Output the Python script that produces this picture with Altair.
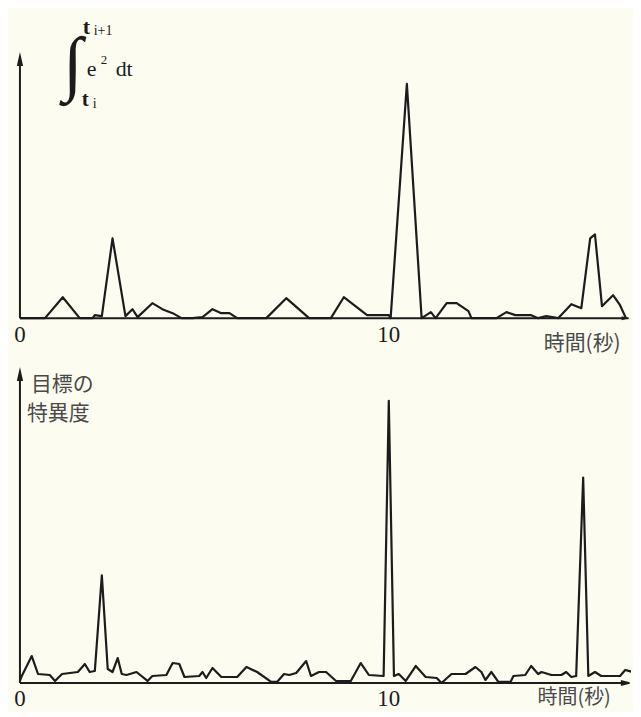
import altair as alt
import pandas as pd

# ---- data (time in seconds, arbitrary amplitude units) ----
top_t = [0, 0.68, 1.16, 1.62, 1.97, 2.03, 2.22, 2.51, 2.86, 3.05, 3.19, 3.59, 3.86, 4.14,
         4.38, 4.68, 4.95, 5.22, 5.46, 5.68, 5.89, 6.68, 7.22, 7.84, 8.43, 8.78, 9.41, 10.0,
         10.05, 10.49, 10.89, 11.14, 11.27, 11.57, 11.84, 12.16, 12.24, 12.92, 13.19, 13.43,
         13.86, 14.05, 14.27, 14.59, 14.95, 15.22, 15.46, 15.59, 15.78, 16.08, 16.27, 16.43]
top_v = [0, 0, 2.1, 0, 0, 0.3, 0.2, 8.0, 0.2, 0.9, 0.1, 1.5, 0.9, 0.5,
         0, 0, 0.1, 0.9, 0.5, 0.5, 0, 0, 2.0, 0, 0, 2.1, 0.3, 0.3,
         0, 23.5, 0, 0.6, 0, 1.5, 1.5, 0.7, 0, 0, 0.6, 0.3,
         0.3, 0, 0.2, 0, 1.4, 1.0, 8.0, 8.4, 1.2, 2.3, 1.3, 0]

bot_t = [0, 0.05, 0.32, 0.49, 0.81, 0.95, 1.14, 1.57, 1.76, 1.89,
         2.03, 2.22, 2.38, 2.51, 2.65, 2.76, 2.89, 3.16, 3.46, 3.59,
         3.97, 4.14, 4.32, 4.46, 4.86, 4.95, 5.05, 5.22, 5.46, 5.89,
         6.14, 6.43, 6.81, 6.97, 7.16, 7.30, 7.49, 7.76, 7.89, 8.11,
         8.30, 8.57, 8.97, 9.24, 9.46, 9.86, 10.0, 10.14, 10.27, 10.46,
         10.73, 11.0, 11.30, 11.43, 11.70, 12.08, 12.35, 12.51, 12.62, 12.78,
         12.97, 13.30, 13.38, 13.70, 13.86, 14.05, 14.14, 14.41, 14.68, 14.81,
         14.95, 15.08, 15.27, 15.41, 15.59, 15.76, 16.27, 16.41, 16.62, 16.72]
bot_v = [0.2, 0.7, 2.7, 0.9, 0.8, 0.2, 0.9, 1.1, 1.9, 1.1,
         1.2, 10.8, 1.4, 1.1, 2.5, 0.9, 0.8, 1.1, 0.2, 0.7,
         0.8, 2.0, 1.9, 0.6, 0.7, 1.1, 0.5, 1.5, 0.6, 0.6,
         1.6, 1.1, 0.1, 0.1, 0.9, 0.8, 1.0, 2.2, 0.7, 1.1,
         1.1, 0.2, 0.2, 2.0, 0.8, 0.7, 28.3, 0.7, 0.9, 0.2,
         1.7, 0.6, 0.5, 0, 0.9, 0.9, 1.6, 1.1, 0.3, 1.1,
         0.1, 0.1, 0.7, 0.8, 1.7, 0.9, 1.1, 0.8, 0.8, 1.1,
         0.6, 0.7, 20.6, 0.7, 1.1, 0.7, 0.7, 1.3, 1.1, 1.1]

tick_values = [0, 10]
tick_labels = ["0", "10"]
x_label = "時間(秒)"
bottom_y_label = ["目標の", "特異度"]

assert len(top_t) == len(top_v) and len(bot_t) == len(bot_v)

INK = "#1c1c1c"
TXT = "#4a4a4a"
BG = "#fcfcf0"
SERIF = "Liberation Serif"
JP = "Noto Sans CJK JP"

W = 625
X_DOM = [-0.324, 16.567]
xs = alt.Scale(domain=X_DOM, nice=False, zero=False)


def panel(t, v, ydom, axis_top, axis_right, tick_y, open_arrow):
    ys = alt.Scale(domain=ydom, nice=False, zero=False)
    df = pd.DataFrame({"t": t, "v": v})
    line = alt.Chart(df).mark_line(color=INK, strokeWidth=2.2, strokeJoin="round", clip=True).encode(
        x=alt.X("t:Q", scale=xs, axis=None),
        y=alt.Y("v:Q", scale=ys, axis=None),
    )
    axes_df = pd.DataFrame({"x": [0, 0], "x2": [axis_right, 0], "y": [0, 0], "y2": [0, axis_top]})
    axes = alt.Chart(axes_df).mark_rule(color=INK, strokeWidth=2).encode(
        x=alt.X("x:Q", scale=xs, axis=None), x2="x2:Q",
        y=alt.Y("y:Q", scale=ys, axis=None), y2="y2:Q",
    )
    up = alt.Chart(pd.DataFrame({"x": [0], "y": [axis_top]})).mark_point(
        shape="M0,-1L0.45,1L-0.45,1Z", size=196, filled=True, color=INK, opacity=1
    ).encode(x=alt.X("x:Q", scale=xs, axis=None), y=alt.Y("y:Q", scale=ys, axis=None))
    right = alt.Chart(pd.DataFrame({"x": [axis_right - 0.08], "y": [0]})).mark_point(
        shape="M1,0L-1,-0.5L-1,0.5Z", size=64, filled=not open_arrow, color=INK,
        opacity=1, strokeWidth=1.5
    ).encode(x=alt.X("x:Q", scale=xs, axis=None), y=alt.Y("y:Q", scale=ys, axis=None))
    ticks = alt.Chart(pd.DataFrame({"x": tick_values, "lab": tick_labels, "y": [tick_y, tick_y]})).mark_text(
        font=SERIF, fontSize=23, color=INK, align="center", baseline="middle"
    ).encode(x=alt.X("x:Q", scale=xs, axis=None), y=alt.Y("y:Q", scale=ys, axis=None), text="lab:N")
    return [line, axes, up, right, ticks]


def label(text, x, y, size, font=SERIF, align="left", baseline="alphabetic", color=INK, weight="normal"):
    return alt.Chart(pd.DataFrame({"k": [0]})).mark_text(
        text=text, x=x, y=y, fontSize=size, font=font, align=align, baseline=baseline,
        color=color, fontWeight=weight
    )


top_layers = panel(top_t, top_v, [-4, 31], 26.0, 16.5, -1.7, False)
top_layers += [
    label("∫", 75, 56, 72, font="DejaVu Sans", align="right", baseline="middle", weight=200),
    label("t", 75, 25, 22, weight="bold"),
    label("i+1", 86, 26, 14),
    label("e", 79, 67, 22),
    label("2", 93, 55, 13),
    label("dt", 108, 67, 22),
    label("t", 74, 97, 21, weight="bold"),
    label("i", 85, 99, 14),
    label(x_label, 576, 336, 21, font=JP, align="center", baseline="middle", color=TXT),
]
top = alt.layer(*top_layers).properties(width=W, height=350)

bot_layers = panel(bot_t, bot_v, [-2.5, 32.6], 31.0, 16.5, -1.6, True)
bot_layers += [
    label(bottom_y_label[0], 23, 27, 21, font=JP, baseline="middle", color=TXT),
    label(bottom_y_label[1], 19, 56, 21, font=JP, baseline="middle", color=TXT),
    label(x_label, 568, 341, 20, font=JP, align="center", baseline="middle", color=TXT),
]
bottom = alt.layer(*bot_layers).properties(width=W, height=351)

chart = alt.vconcat(top, bottom, spacing=0).resolve_scale(x="independent", y="independent").properties(
    background=BG, padding=0
).configure_view(stroke=None)

chart.save("out.html", embed_options={"renderer": "svg", "actions": False})
